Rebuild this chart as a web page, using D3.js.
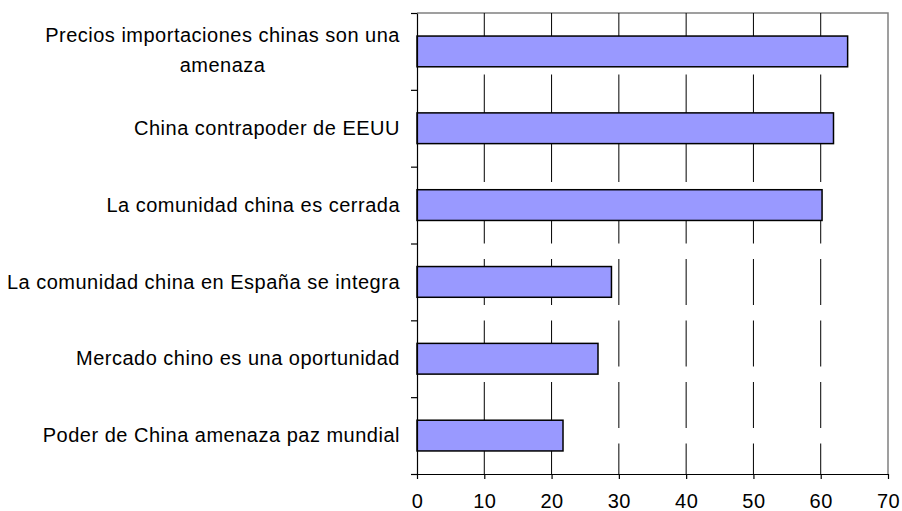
<!DOCTYPE html>
<html>
<head>
<meta charset="utf-8">
<script src="https://cdn.jsdelivr.net/npm/d3@7"></script>
<style>
  body { margin: 0; background: #fff; }
  text { font-family: "Liberation Sans", Arial, sans-serif; fill: #000; }
</style>
</head>
<body>
<div id="chart"></div>
<script>
// chart data
const categories = [
  "Precios importaciones chinas son una amenaza",
  "China contrapoder de EEUU",
  "La comunidad china es cerrada",
  "La comunidad china en España se integra",
  "Mercado chino es una oportunidad",
  "Poder de China amenaza paz mundial"
]
const values = [64, 61.9, 60.2, 28.9, 26.9, 21.7]
const xTicks = [0, 10, 20, 30, 40, 50, 60, 70]

function makeChart(){
    let width = 902, height = 511
    let left = 417, right = 888, top = 13, bottom = 474
    let fontSize = 20, spacing = '0.5px'

    let svg = d3.select('#chart')
                .append('svg')
                    .attr('width', width)
                    .attr('height', height)

    let x = d3.scaleLinear().domain([0, 70]).range([left, right])
    let y = d3.scaleBand().domain(categories).range([top, bottom])
              .paddingInner(0.6).paddingOuter(0.3)

    // plot frame (top + right, grey)
    svg.append('path')
        .attr('d', `M${left},${top}H${right}V${bottom}`)
        .attr('fill', 'none')
        .attr('stroke', '#808080')
        .attr('stroke-width', 1.5)

    // dashed vertical gridlines
    svg.selectAll('.grid')
        .data(xTicks.filter(d => d > 0 && d < 70))
        .enter()
        .append('line')
        .attr('x1', d => x(d)).attr('x2', d => x(d))
        .attr('y1', top).attr('y2', bottom)
        .attr('stroke', '#000')
        .attr('stroke-width', 1)
        .attr('stroke-dasharray', '46,15.5')

    // bars
    svg.selectAll('.bar')
        .data(values)
        .enter()
        .append('rect')
        .attr('x', x(0))
        .attr('y', (d, i) => y(categories[i]))
        .attr('width', d => x(d) - x(0))
        .attr('height', y.bandwidth())
        .attr('fill', '#9999ff')
        .attr('stroke', '#000')
        .attr('stroke-width', 1.5)

    // left axis: ticks at category boundaries
    let yEdges = d3.scaleLinear().domain([0, categories.length]).range([top, bottom])
    svg.append('g')
        .attr('transform', `translate(${left},0)`)
        .call(d3.axisLeft(yEdges).tickValues(d3.range(categories.length + 1)).tickFormat('').tickSize(6).tickSizeOuter(0))
        .call(g => g.selectAll('line,path').attr('stroke', '#000').attr('stroke-width', 1.2))

    // bottom axis
    svg.append('g')
        .attr('transform', `translate(0,${bottom})`)
        .call(d3.axisBottom(x).tickValues(xTicks).tickSize(5).tickSizeOuter(0))
        .call(g => g.selectAll('line,path').attr('stroke', '#000').attr('stroke-width', 1.2))
        .call(g => g.selectAll('text')
            .attr('font-size', fontSize + 'px')
            .attr('font-family', '"Liberation Sans", Arial, sans-serif')
            .attr('letter-spacing', spacing)
            .attr('dy', null)
            .attr('y', 34))

    // category labels, wrapped and centred as a block, right edge at 400
    let labels = svg.selectAll('.label')
        .data(categories)
        .enter()
        .append('text')
        .attr('font-size', fontSize + 'px')
        .attr('letter-spacing', spacing)
        .attr('text-anchor', 'middle')

    labels.each(function(d){
        let t = d3.select(this)
        let words = d.split(' '), lines = [], line = []
        let probe = t.append('tspan')
        words.forEach(w => {
            probe.text(line.concat(w).join(' '))
            if (line.length && probe.node().getComputedTextLength() > 395) {
                lines.push(line.join(' '))
                line = [w]
            } else line.push(w)
        })
        lines.push(line.join(' '))
        probe.remove()

        let widths = lines.map(l => { let s = t.append('tspan').text(l); let w = s.node().getComputedTextLength(); s.remove(); return w })
        let maxW = d3.max(widths)
        let cx = 400 - maxW / 2
        let cy = y(d) + y.bandwidth() / 2
        let lh = 29.5
        lines.forEach((l, k) => {
            t.append('tspan')
                .attr('x', cx)
                .attr('y', cy + (k - (lines.length - 1) / 2) * lh + fontSize * 0.33 - (lines.length > 1 ? 1 : 0))
                .text(l)
        })
    })
}

makeChart()
</script>
</body>
</html>
